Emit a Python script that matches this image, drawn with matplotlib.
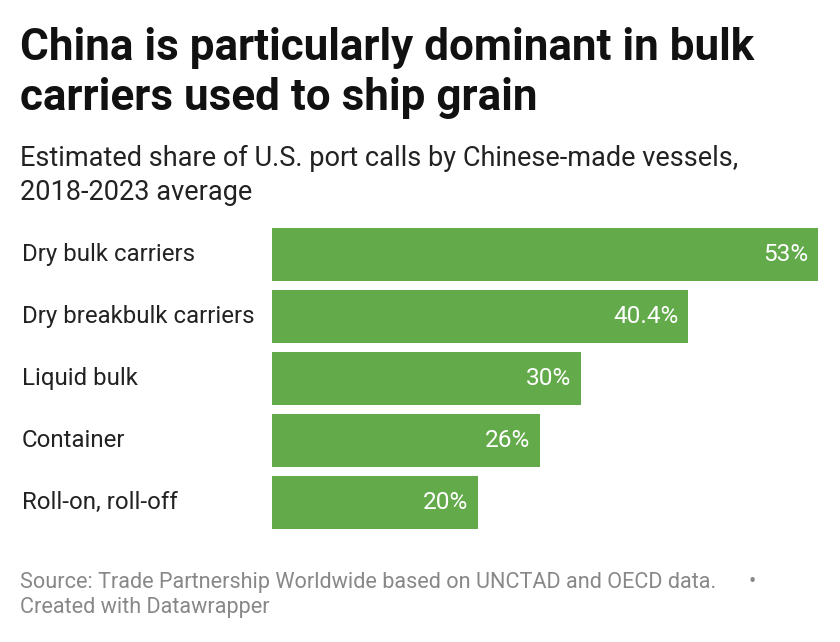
import matplotlib
matplotlib.use("Agg")
import matplotlib.pyplot as plt

plt.rcParams['font.family'] = ['Roboto', 'DejaVu Sans']

# Data
categories = ['Dry bulk carriers', 'Dry breakbulk carriers', 'Liquid bulk',
              'Container', 'Roll-on, roll-off']
shares = [53, 40.4, 30, 26, 20]
value_labels = ['53%', '40.4%', '30%', '26%', '20%']

title_lines = ['China is particularly dominant in bulk', 'carriers used to ship grain']
subtitle_lines = ['Estimated share of U.S. port calls by Chinese-made vessels,',
                  '2018-2023 average']
footer_lines = ['Source: Trade Partnership Worldwide based on UNCTAD and OECD data.',
                'Created with Datawrapper']

W, H = 840, 642
fig = plt.figure(figsize=(W / 100, H / 100), dpi=100)
fig.patch.set_facecolor('white')

# axes placed where the bars sit in the reference (pixels)
x0, x1, y0, y1 = 272, 818, 228, 529
ax = fig.add_axes([x0 / W, 1 - y1 / H, (x1 - x0) / W, (y1 - y0) / H])

bar_h = 53 / 62
pos = list(range(len(categories)))
ax.barh(pos, shares, height=bar_h, color='#63aa4a')
ax.set_xlim(0, max(shares))
ax.set_ylim(len(categories) - 1 + bar_h / 2, -bar_h / 2)
ax.axis('off')

for p, v, lab in zip(pos, shares, value_labels):
    ax.annotate(lab, (v, p), xytext=(-7.2, 0), textcoords='offset points',
                ha='right', va='center', color='white', fontsize=17.6)

for p, c in zip(pos, categories):
    ax.annotate(c, (0, p), xycoords=('figure fraction', 'data'),
                xytext=(22 / W, 0), textcoords=('figure fraction', 'offset points'),
                ha='left', va='center', color='#222222', fontsize=17.3)


def put_lines(lines, baselines, **kw):
    for t, b in zip(lines, baselines):
        fig.text(20 / W, 1 - b / H, t, ha='left', va='baseline', **kw)


put_lines(title_lines, [60, 110], fontsize=31.7, fontweight='bold', color='#111111')
put_lines(subtitle_lines, [166, 200], fontsize=19.5, color='#222222')
put_lines(footer_lines, [588, 613], fontsize=15.6, color='#888888')
# separator dot after the source line
fig.text(752 / W, 1 - 588 / H, '\u2022', ha='center', va='baseline',
         fontsize=15.6, color='#888888')

fig.savefig('out.png', dpi=100, facecolor='white')
